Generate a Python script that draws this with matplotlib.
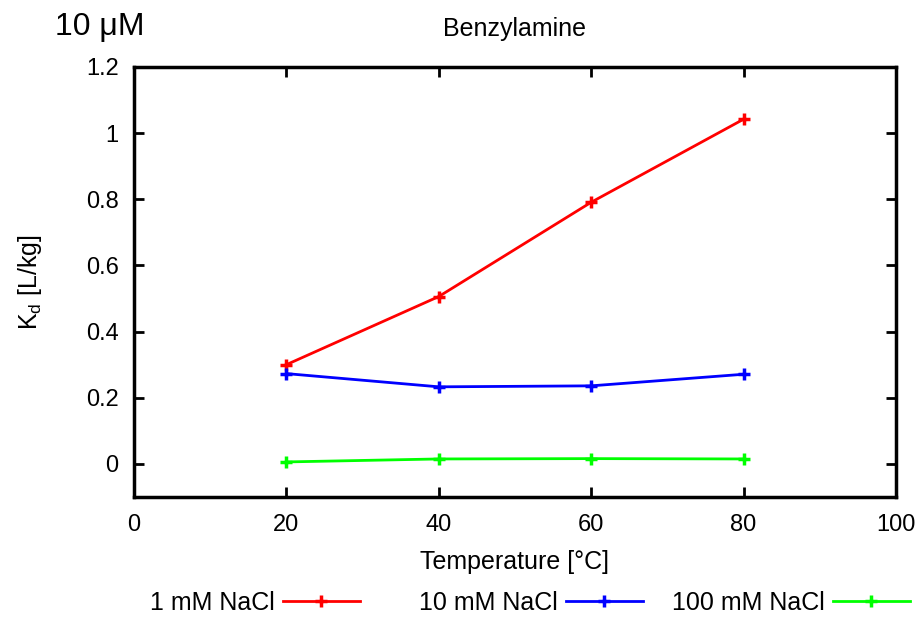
import matplotlib.pyplot as plt

plt.rcParams['font.family'] = ['Liberation Sans', 'DejaVu Sans']

temps = [20, 40, 60, 80]
kd_1mM = [0.300, 0.506, 0.791, 1.042]
kd_10mM = [0.273, 0.233, 0.236, 0.271]
kd_100mM = [0.006, 0.015, 0.016, 0.015]
labels = ['1 mM NaCl', '10 mM NaCl', '100 mM NaCl']
colors = ['#ff0000', '#0000ff', '#00ff00']

fig = plt.figure(figsize=(9.22, 6.17), dpi=100)
ax = fig.add_axes([0.1453, 0.1945, 0.8265, 0.697])

lines = []
for ys, lab, c in zip([kd_1mM, kd_10mM, kd_100mM], labels, colors):
    ln, = ax.plot(temps, ys, color=c, lw=2, marker='+', ms=9, mew=2.5, label=lab)
    lines.append(ln)

ax.set_xlim(0, 100)
ax.set_ylim(-0.1, 1.2)
ax.set_xticks([0, 20, 40, 60, 80, 100])
ax.set_xticklabels(['0', '20', '40', '60', '80', '100'])
ax.set_yticks([0, 0.2, 0.4, 0.6, 0.8, 1.0, 1.2])
ax.set_yticklabels(['0', '0.2', '0.4', '0.6', '0.8', '1', '1.2'])
ax.tick_params(direction='in', top=True, right=True, length=7, width=2, labelsize=17)
ax.tick_params(axis='y', pad=11)
ax.tick_params(axis='x', pad=12)
for s in ax.spines.values():
    s.set_linewidth(2.5)

ax.set_xlabel('Temperature [°C]', fontsize=18, labelpad=10)
ax.set_ylabel('K$_\\mathregular{d}$ [L/kg]', fontsize=18, labelpad=30)
ax.set_title('Benzylamine', fontsize=18, pad=22)
fig.text(0.06, 0.943, '10 μM', fontsize=23, ha='left', va='baseline')

# gnuplot-style key: text right-aligned before each sample, fixed column widths
right_edges = [360, 643, 910]
for ln, xr in zip(lines, right_edges):
    fig.legend(handles=[ln], loc='center right', bbox_to_anchor=(xr / 922, 0.0227),
               frameon=False, markerfirst=False, fontsize=18, handlelength=3.1,
               handletextpad=0.3, borderpad=0, borderaxespad=0)

fig.savefig('out.png', dpi=100)
